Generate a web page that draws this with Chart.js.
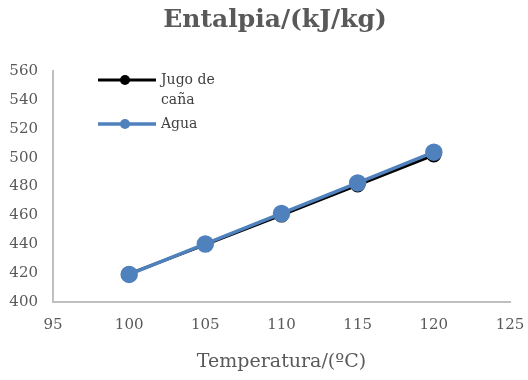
<!DOCTYPE html>
<html>
<head>
<meta charset="utf-8">
<script src="https://cdn.jsdelivr.net/npm/chart.js@4"></script>
<style>
  html, body { margin: 0; padding: 0; background: #fff; }
  #wrap { width: 528px; height: 380px; }
</style>
</head>
<body>
<div id="wrap"><canvas id="chart"></canvas></div>
<script>
// datos
const temperaturas = [100, 105, 110, 115, 120];
const jugoCana = [419.5, 439.8, 460.2, 481.0, 501.8];
const agua = [419.1, 440.2, 461.3, 482.5, 503.8];
const xTicks = { min: 95, max: 125, step: 5 };
const yTicks = { min: 400, max: 560, step: 20 };

const FONT = "'DejaVu Serif', serif";
const GRIS = '#595959';
const TITULO = 'Entalpia/(kJ/kg)';

// titulo y leyenda dibujados a mano (Excel parte "Jugo de caña" en dos lineas)
const decoracion = {
  id: 'decoracion',
  afterDraw(chart) {
    const ctx = chart.ctx;
    ctx.save();
    ctx.font = 'bold 25px ' + FONT;
    ctx.fillStyle = GRIS;
    ctx.textAlign = 'center';
    ctx.textBaseline = 'middle';
    ctx.fillText(TITULO, 275, 20);

    const items = [
      { lines: ['Jugo de', 'caña'], ds: chart.data.datasets[0], y: 80 },
      { lines: ['Agua'], ds: chart.data.datasets[1], y: 124 }
    ];
    ctx.font = '14px ' + FONT;
    ctx.textAlign = 'left';
    items.forEach(it => {
      ctx.strokeStyle = it.ds.borderColor;
      ctx.lineWidth = it.ds.borderWidth;
      ctx.beginPath();
      ctx.moveTo(98, it.y);
      ctx.lineTo(156, it.y);
      ctx.stroke();
      ctx.fillStyle = it.ds.pointBackgroundColor;
      ctx.beginPath();
      ctx.arc(125, it.y, 5, 0, Math.PI * 2);
      ctx.fill();
      ctx.fillStyle = '#404040';
      it.lines.forEach((t, i) => ctx.fillText(t, 161, it.y + i * 20));
    });
    ctx.restore();
  }
};

new Chart(document.getElementById('chart'), {
  type: 'line',
  data: {
    labels: temperaturas,
    datasets: [
      {
        label: 'Jugo de caña',
        data: temperaturas.map((t, i) => ({ x: t, y: jugoCana[i] })),
        borderColor: '#000000',
        backgroundColor: '#000000',
        pointBackgroundColor: '#000000',
        pointBorderColor: '#000000',
        borderWidth: 3,
        pointRadius: 6,
        order: 1
      },
      {
        label: 'Agua',
        data: temperaturas.map((t, i) => ({ x: t, y: agua[i] })),
        borderColor: '#4f81bd',
        backgroundColor: '#4f81bd',
        pointBackgroundColor: '#4f81bd',
        pointBorderColor: '#4f81bd',
        borderWidth: 3.5,
        pointRadius: 7,
        order: 0
      }
    ]
  },
  options: {
    responsive: true,
    maintainAspectRatio: false,
    animation: false,
    layout: { padding: { left: 0, right: 0, top: 71, bottom: 0 } },
    plugins: {
      legend: { display: false },
      tooltip: { enabled: false },
      title: { display: false }
    },
    scales: {
      x: {
        type: 'linear',
        min: xTicks.min,
        max: xTicks.max,
        ticks: { stepSize: xTicks.step, color: GRIS, font: { family: FONT, size: 15 }, padding: 14 },
        grid: { display: false, drawTicks: false },
        border: { color: '#bfbfbf', width: 2 },
        title: {
          display: true,
          text: 'Temperatura/(ºC)',
          color: GRIS,
          font: { family: FONT, size: 19 },
          padding: { top: 8, bottom: 7 }
        },
        afterFit(scale) {
          scale.height = 78;
          scale.paddingLeft = 0;
          scale.paddingRight = 18;
        }
      },
      y: {
        min: yTicks.min,
        max: yTicks.max,
        ticks: { stepSize: yTicks.step, color: GRIS, font: { family: FONT, size: 15 }, padding: 15 },
        grid: { display: false, drawTicks: false },
        border: { color: '#bfbfbf', width: 2 },
        afterFit(scale) { scale.width = 53; }
      }
    }
  },
  plugins: [decoracion]
});
</script>
</body>
</html>
